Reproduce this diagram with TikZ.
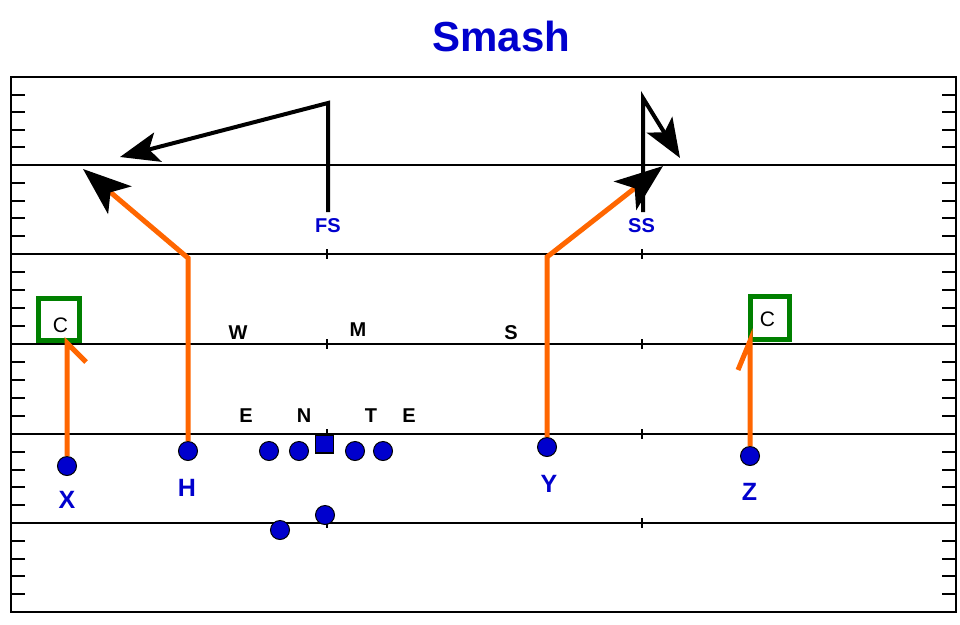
\documentclass[tikz,border=0pt]{standalone}
\usepackage{fontspec}
\setmainfont{Liberation Sans}
\usetikzlibrary{arrows.meta}
\definecolor{pblue}{RGB}{0,0,205}
\definecolor{porange}{RGB}{255,102,0}
\definecolor{pgreen}{RGB}{0,128,0}
\begin{document}
\begin{tikzpicture}[x=1pt,y=-1pt,
  fieldline/.style={line width=2pt},
  player/.style={circle,draw=black,fill=pblue,line width=1pt,minimum size=19pt,inner sep=0pt},
  snapper/.style={rectangle,draw=black,fill=pblue,line width=1.5pt,minimum size=18pt,inner sep=0pt},
  olabel/.style={text=pblue,font=\bfseries\fontsize{25}{25}\selectfont,inner sep=0pt},
  dlabel/.style={font=\bfseries\fontsize{20}{20}\selectfont,inner sep=0pt},
  slabel/.style={text=pblue,font=\bfseries\fontsize{20}{20}\selectfont,inner sep=0pt},
  clabel/.style={font=\fontsize{21}{21}\selectfont,inner sep=0pt},
  route/.style={draw=porange,line width=5pt},
  oarrow/.style={-{Stealth[length=48pt,width=36pt,inset=12pt,color=black]}},
  droute/.style={draw=black,line width=4pt},
  darrow/.style={-{Stealth[length=39pt,width=30pt,inset=9pt]}},
  cbox/.style={draw=pgreen,line width=5pt,inner sep=0pt},
  ]
\useasboundingbox (0,0) rectangle (960,624);
% title
\node[text=pblue,font=\bfseries\fontsize{42}{42}\selectfont,inner sep=0pt] (title) at (501.5,36) {Smash};
% field
\draw[fieldline] (11,77) rectangle (956,612);
\foreach \y in {165,254,344,434,523} \draw[fieldline] (11,\y) -- (956,\y);
\foreach \a/\b in {77/165,165/254,254/344,344/434,434/523,523/612}
  \foreach \k in {1,...,4} {
    \pgfmathsetmacro\yy{\a+\k*(\b-\a)/5}
    \draw[fieldline] (11,\yy) -- (25,\yy);
    \draw[fieldline] (942,\yy) -- (956,\yy);
  }
\foreach \y in {165,254,344,434,523}
  \foreach \x in {327,642} \draw[fieldline] (\x,\y-5) -- (\x,\y+5);
% option boxes
\node[cbox,minimum width=41pt,minimum height=42pt] (CL) at (59,319.5) {};
\node[clabel] (CLt) at (60.5,325.5) {C};
\node[cbox,minimum width=39pt,minimum height=43pt] (CR) at (770,318) {};
\node[clabel] (CRt) at (767.5,319.5) {C};
% defense labels
\node[slabel] (FS) at (328,225.5) {FS};
\node[slabel] (SS) at (641.5,225.5) {SS};
\node[dlabel] (W) at (238,332.5) {W};
\node[dlabel] (M) at (358,330) {M};
\node[dlabel] (S) at (511,333) {S};
\node[dlabel] (E1) at (246,415.5) {E};
\node[dlabel] (N) at (304,415.5) {N};
\node[dlabel] (T) at (371,415.5) {T};
\node[dlabel] (E2) at (409,415.5) {E};
% offense
\node[player] (X) at (67,466) {};
\node[player] (H) at (188,451) {};
\node[player] (LT) at (269,451) {};
\node[player] (LG) at (299,451) {};
\node[snapper] (OC) at (324.5,444) {};
\node[player] (RG) at (355,451) {};
\node[player] (RT) at (383,451) {};
\node[player] (QB) at (325,515) {};
\node[player] (RB) at (280,530) {};
\node[player] (Y) at (547,447) {};
\node[player] (Z) at (750,456) {};
\node[olabel] (Xl) at (67,500) {X};
\node[olabel] (Hl) at (187,488) {H};
\node[olabel] (Yl) at (549,484) {Y};
\node[olabel] (Zl) at (749.5,492) {Z};
% route points
\coordinate (xb) at (67,343);
\coordinate (xe) at (86,362);
\coordinate (hb) at (188,258);
\coordinate (ht) at (83,169);
\coordinate (yb) at (547,257);
\coordinate (yt) at (663,166);
\coordinate (zb) at (750,341);
\coordinate (ze) at (738,370);
\coordinate (fst) at (328,103);
\coordinate (fse) at (120,157);
\coordinate (sst) at (643,98);
\coordinate (sse) at (680,158);
% defensive routes
\draw[droute,darrow] ([yshift=6pt]FS.north) -- (fst) -- (fse);
\draw[droute,darrow] ([yshift=6pt,xshift=1.5pt]SS.north) -- (sst) -- (sse);
% offensive routes
\draw[route] (X) -- (xb) -- (xe);
\draw[route,oarrow] (H) -- (hb) -- (ht);
\draw[route,oarrow] (Y) -- (yb) -- (yt);
\draw[route] (Z) -- (zb) -- (ze);
\end{tikzpicture}
\end{document}
